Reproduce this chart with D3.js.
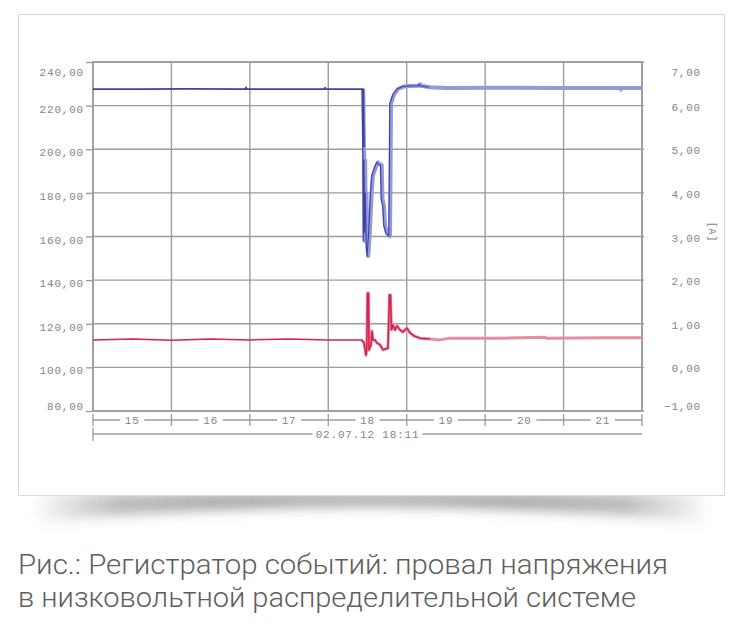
<!DOCTYPE html>
<html>
<head>
<meta charset="utf-8">
<script src="https://d3js.org/d3.v7.min.js"></script>
<style>
  body { margin: 0; background: #ffffff; }
  .tick-label { font-family: "Liberation Mono", "DejaVu Sans Mono", monospace; font-size: 11px; fill: #858585; letter-spacing: 0.8px; }
  .caption { font-family: Roboto, "Liberation Sans", Arial, sans-serif; font-weight: 300; font-size: 27px; fill: #5e5e5e; }
</style>
</head>
<body>
<div id="chart"></div>
<script>
// seconds after 18:11:00 (02.07.12)
var voltTime  = [15, 15.6, 16.2, 16.94, 16.95, 16.96, 17.5, 17.95, 17.96, 17.97, 18.446, 18.455, 18.462, 18.47, 18.478, 18.486, 18.5, 18.51, 18.53, 18.553, 18.57, 18.608, 18.634, 18.66, 18.681, 18.691, 18.71, 18.723, 18.749, 18.787, 18.793, 18.80, 18.838, 18.889, 18.965, 19.042, 19.16, 19.17, 19.18, 19.297, 19.5, 20.189, 21.0, 21.72, 21.73, 21.74, 22];
var voltValue = [227.6, 227.6, 227.7, 227.6, 228.4, 227.6, 227.6, 227.6, 228.3, 227.6, 227.6, 201, 158, 195, 162, 180, 155, 151, 162, 180, 188, 192, 194, 193, 192.8, 177, 174, 165, 161.6, 160.2, 185, 221, 225, 227.6, 228.8, 229, 229.1, 229.8, 229.1, 228.4, 228.1, 228.2, 228.1, 228.1, 227.4, 228.1, 228.1];

var ampTime  = [15, 15.5, 16, 16.5, 17, 17.5, 18, 18.426, 18.455, 18.481, 18.49, 18.5, 18.513, 18.519, 18.545, 18.557, 18.57, 18.596, 18.621, 18.659, 18.698, 18.723, 18.761, 18.78, 18.793, 18.806, 18.825, 18.851, 18.876, 18.914, 18.953, 18.978, 19.004, 19.042, 19.093, 19.169, 19.297, 19.424, 19.552, 20.189, 20.763, 20.78, 21.5, 22];
var ampValue = [0.63, 0.65, 0.62, 0.65, 0.63, 0.65, 0.63, 0.63, 0.56, 0.28, 0.40, 1.70, 1.70, 0.40, 0.52, 0.83, 0.63, 0.63, 0.56, 0.52, 0.40, 0.42, 0.44, 1.66, 1.66, 0.86, 0.97, 0.86, 0.95, 0.86, 0.81, 0.86, 0.90, 0.79, 0.72, 0.67, 0.65, 0.63, 0.67, 0.67, 0.69, 0.67, 0.68, 0.68];

var voltTicks = [80, 100, 120, 140, 160, 180, 200, 220, 240];
var ampTicks = [-1, 0, 1, 2, 3, 4, 5, 6, 7];
var secondTicks = [15, 16, 17, 18, 19, 20, 21, 22];
var secondLabels = ["15", "16", "17", "18", "19", "20", "21"];
var dateLabel = "02.07.12 18:11";
var unitLabel = "[A]";
var captionLines = ["Рис.: Регистратор событий: провал напряжения",
                    "в низковольтной распределительной системе"];

var W = 742, H = 626;
var plot = {left: 93, right: 642, top: 62, bottom: 411};

var svg = d3.select("#chart").append("svg")
    .attr("width", W)
    .attr("height", H);

// card + curled shadow underneath
var defs = svg.append("defs");
defs.append("filter").attr("id", "blur")
    .attr("x", "-10%").attr("y", "-100%").attr("width", "120%").attr("height", "300%")
  .append("feGaussianBlur").attr("stdDeviation", 6);

var grad = defs.append("linearGradient").attr("id", "shadowFade")
    .attr("x1", "0").attr("x2", "1").attr("y1", "0").attr("y2", "0");
[[0, 0.05], [0.12, 0.45], [0.3, 0.6], [0.5, 0.55], [0.7, 0.6], [0.88, 0.45], [1, 0.05]].forEach(function(s) {
  grad.append("stop").attr("offset", s[0]).attr("stop-color", "#6e6e6e").attr("stop-opacity", s[1]);
});

svg.append("path")
    .attr("d", "M40,493 L702,493 L704,522 Q371,492 38,522 Z")
    .attr("fill", "url(#shadowFade)")
    .attr("filter", "url(#blur)");

svg.append("rect")
    .attr("x", 18.5).attr("y", 14.5)
    .attr("width", 706).attr("height", 481)
    .attr("fill", "#ffffff")
    .attr("stroke", "#d8d8d8");

// scales
var x = d3.scaleLinear().domain([15, 22]).range([plot.left, plot.right]);
var yV = d3.scaleLinear().domain([80, 240]).range([plot.bottom, plot.top]);
var yA = d3.scaleLinear().domain([-1, 7]).range([plot.bottom, plot.top]);

var fmt = function(d) { return d3.format(".2f")(d).replace(".", ","); };
var gridColor = "#9c9c9c";

// grid
var grid = svg.append("g").attr("stroke", gridColor).attr("stroke-width", 1.4);
grid.selectAll(".h").data(voltTicks).enter().append("line")
    .attr("x1", plot.left).attr("x2", plot.right + 2)
    .attr("y1", function(d) { return yV(d); })
    .attr("y2", function(d) { return yV(d); });
grid.selectAll(".v").data(secondTicks).enter().append("line")
    .attr("y1", plot.top).attr("y2", plot.bottom)
    .attr("x1", function(d) { return x(d); })
    .attr("x2", function(d) { return x(d); });

// left axis ticks
var leftAxis = svg.append("g")
    .attr("transform", "translate(" + plot.left + ",0)")
    .call(d3.axisLeft(yV).tickValues(voltTicks).tickSize(7).tickFormat(""));
leftAxis.select(".domain").remove();
leftAxis.selectAll("line").attr("stroke", gridColor).attr("stroke-width", 1.4);

// left labels
svg.append("g").selectAll("text").data(voltTicks).enter().append("text")
    .attr("class", "tick-label")
    .attr("text-anchor", "end")
    .attr("x", 84)
    .attr("y", function(d) { return Math.max(72, Math.min(406, yV(d) + 3)) + 4; })
    .text(fmt);

// right labels
svg.append("g").selectAll("text").data(ampTicks).enter().append("text")
    .attr("class", "tick-label")
    .attr("text-anchor", "end")
    .attr("x", 701)
    .attr("y", function(d) { return Math.max(72, Math.min(406, yA(d) + 1)) + 4; })
    .text(fmt);

svg.append("text")
    .attr("class", "tick-label")
    .attr("transform", "translate(709,232) rotate(90)")
    .attr("text-anchor", "middle")
    .style("font-size", "10px")
    .text(unitLabel);

// time axis: seconds row
var rowY = 420;
var timeAxis = svg.append("g").attr("stroke", gridColor).attr("stroke-width", 1.3);
timeAxis.append("line")
    .attr("x1", x(15)).attr("x2", x(22))
    .attr("y1", rowY).attr("y2", rowY);
timeAxis.selectAll(".tk").data(secondTicks).enter().append("line")
    .attr("x1", function(d) { return x(d); })
    .attr("x2", function(d) { return x(d); })
    .attr("y1", rowY - 6).attr("y2", rowY + 6);

var secG = svg.append("g").selectAll("g").data(secondLabels).enter().append("g")
    .attr("transform", function(d) { return "translate(" + x(+d + 0.5) + "," + rowY + ")"; });
secG.append("rect")
    .attr("x", -12).attr("y", -4).attr("width", 24).attr("height", 8)
    .attr("fill", "#ffffff");
secG.append("text")
    .attr("class", "tick-label")
    .attr("text-anchor", "middle")
    .attr("y", 4)
    .text(function(d) { return d; });

// date row
var dateY = 434;
timeAxis.append("line")
    .attr("x1", x(15)).attr("x2", x(22))
    .attr("y1", dateY).attr("y2", dateY);
timeAxis.append("line")
    .attr("x1", x(15)).attr("x2", x(15))
    .attr("y1", dateY - 6).attr("y2", dateY + 7);
var dateG = svg.append("g").attr("transform", "translate(" + x(18.5) + "," + dateY + ")");
dateG.append("rect")
    .attr("x", -55).attr("y", -4).attr("width", 110).attr("height", 8)
    .attr("fill", "#ffffff");
dateG.append("text")
    .attr("class", "tick-label")
    .attr("text-anchor", "middle")
    .attr("y", 4)
    .text(dateLabel);

// plot border
svg.append("rect")
    .attr("x", plot.left).attr("y", plot.top)
    .attr("width", plot.right - plot.left).attr("height", plot.bottom - plot.top)
    .attr("fill", "none")
    .attr("stroke", gridColor)
    .attr("stroke-width", 1.6);

// series
var volt = voltTime.map(function(t, i) { return {t: t, v: voltValue[i]}; });
var amp = ampTime.map(function(t, i) { return {t: t, v: ampValue[i]}; });

var lineV = d3.line().x(function(d) { return x(d.t); }).y(function(d) { return yV(d.v); });
var lineA = d3.line().x(function(d) { return x(d.t); }).y(function(d) { return yA(d.v); });

// current: faded wide trace after the event, crisp trace before/during
svg.append("path")
    .datum(amp.filter(function(d) { return d.t >= 18.42; }))
    .attr("d", lineA)
    .attr("fill", "none")
    .attr("stroke", "#e68da2")
    .attr("stroke-width", 3)
    .attr("stroke-linejoin", "round");
svg.append("path")
    .datum(amp.filter(function(d) { return d.t <= 19.3; }))
    .attr("d", lineA)
    .attr("fill", "none")
    .attr("stroke", "#d5234f")
    .attr("stroke-width", 1.5)
    .attr("stroke-linejoin", "round");

// voltage: light envelope band during and after the dip
svg.append("path")
    .datum(volt.filter(function(d) { return d.t >= 18.44; }))
    .attr("d", lineV)
    .attr("fill", "none")
    .attr("stroke", "#9499d9")
    .attr("stroke-width", 4)
    .attr("stroke-linejoin", "round");
svg.append("path")
    .datum(volt.filter(function(d) { return d.t <= 18.455; }))
    .attr("d", lineV)
    .attr("fill", "none")
    .attr("stroke", "#3b41a5")
    .attr("stroke-width", 1.7)
    .attr("stroke-linejoin", "round");
svg.append("path")
    .datum(volt.filter(function(d) { return d.t >= 18.446 && d.t <= 19.45; }))
    .attr("d", lineV)
    .attr("transform", "translate(-1.2,0)")
    .attr("fill", "none")
    .attr("stroke", "#3b41a5")
    .attr("stroke-width", 1.1)
    .attr("stroke-linejoin", "round");

// caption
var capWidths = [650, 618];
svg.append("g").selectAll("text").data(captionLines).enter().append("text")
    .attr("class", "caption")
    .attr("x", 18)
    .attr("y", function(d, i) { return 574 + i * 33; })
    .attr("textLength", function(d, i) { return capWidths[i]; })
    .attr("lengthAdjust", "spacingAndGlyphs")
    .text(function(d) { return d; });
</script>
</body>
</html>
